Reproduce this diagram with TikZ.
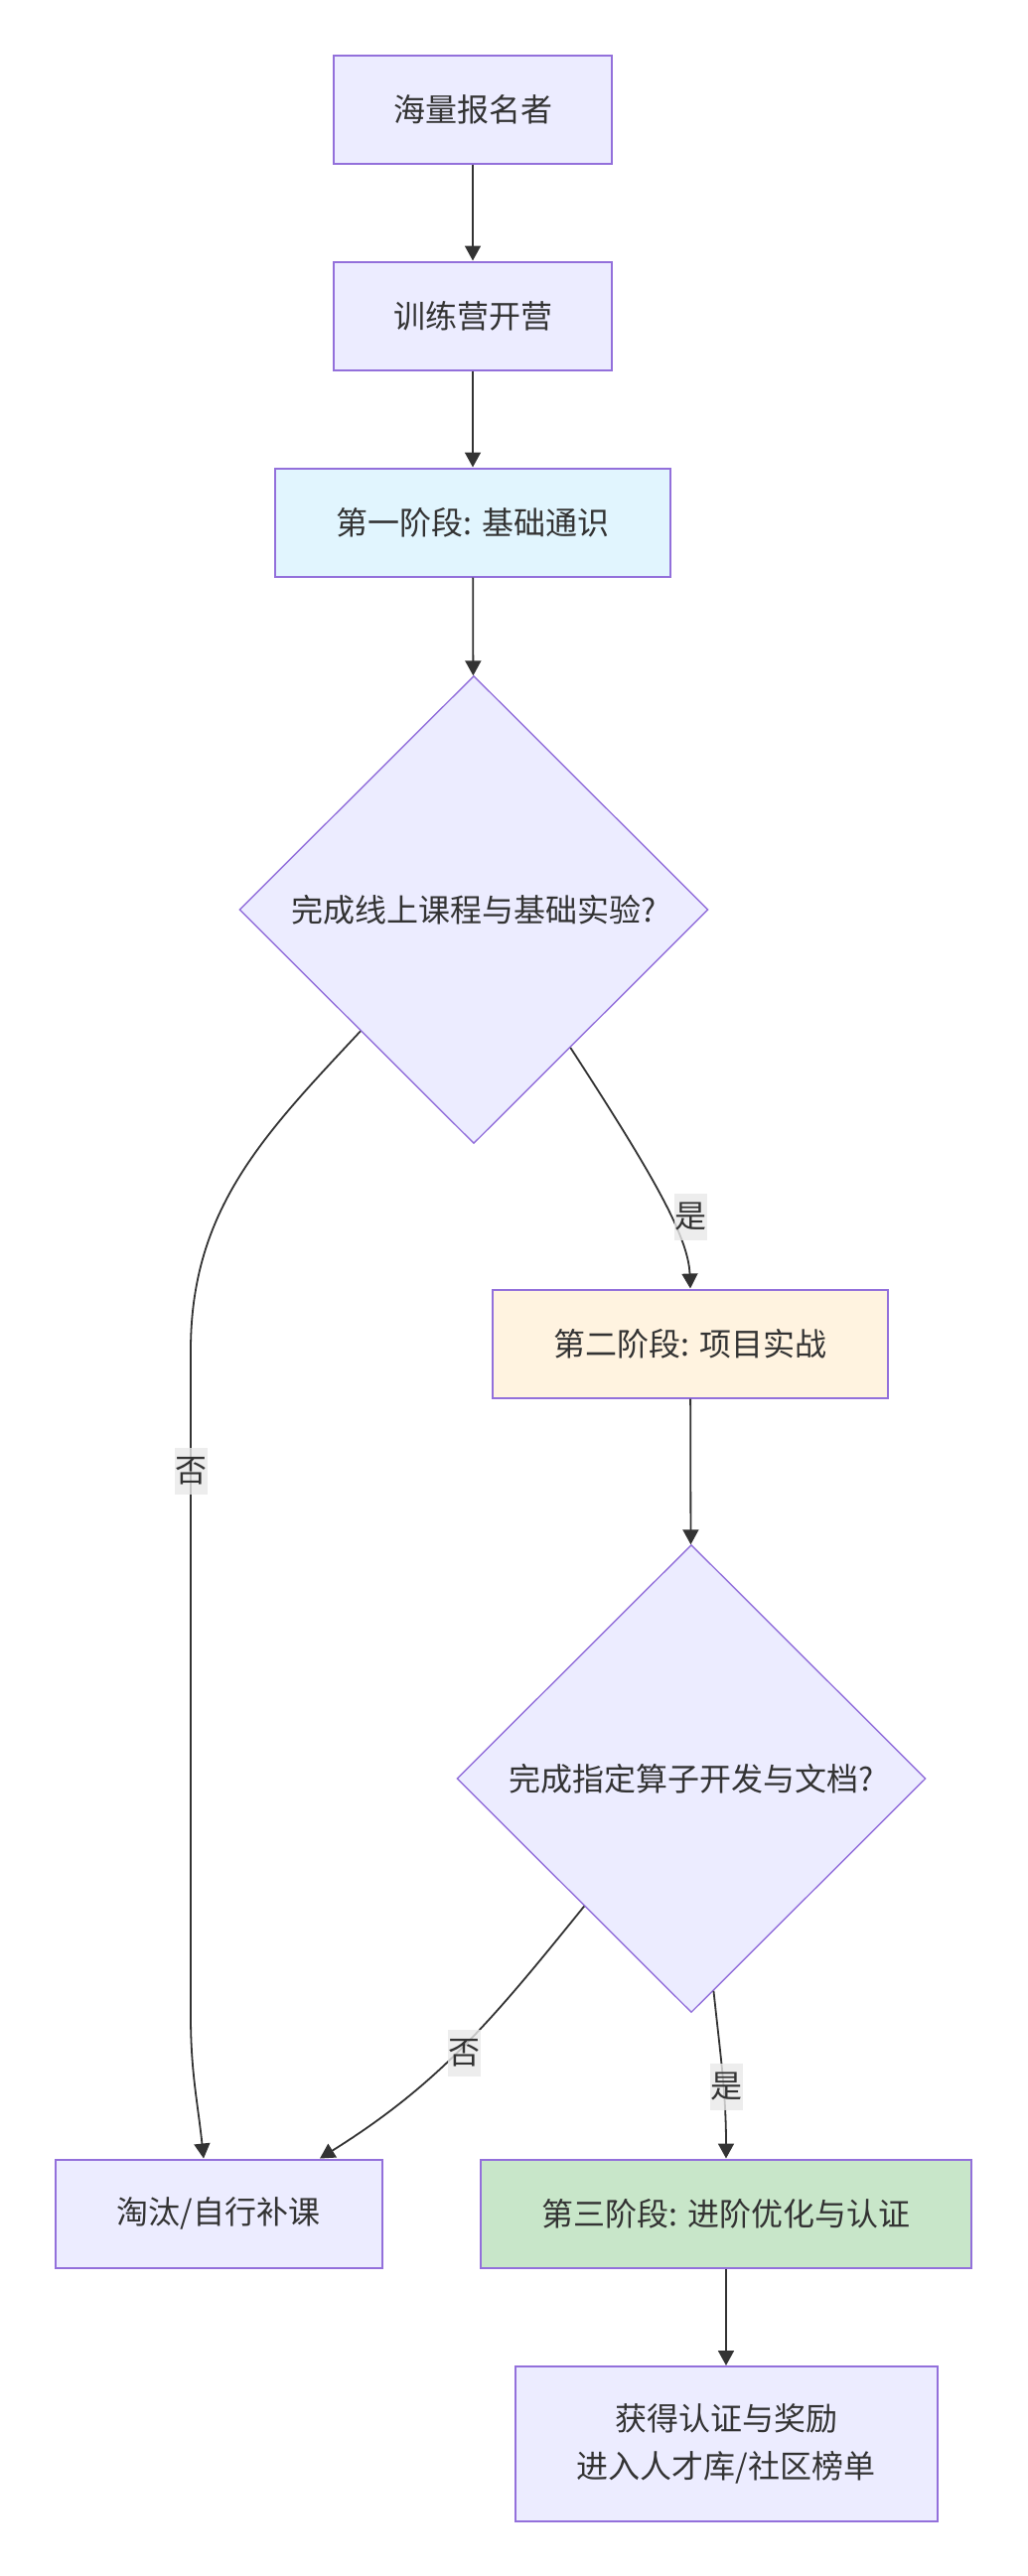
\documentclass[tikz,border=0pt]{standalone}
\usepackage{fontspec}
\setmainfont{Noto Sans CJK SC}
\usetikzlibrary{shapes.geometric,arrows.meta}

\definecolor{nodefill}{HTML}{ECECFF}
\definecolor{nodeline}{HTML}{9370DB}
\definecolor{edgeline}{HTML}{333333}
\definecolor{txt}{HTML}{333333}
\definecolor{stageone}{HTML}{E1F5FE}
\definecolor{stagetwo}{HTML}{FFF3E0}
\definecolor{stagethree}{HTML}{C8E6C9}
\definecolor{lblfill}{HTML}{E8E8E8}

\tikzset{
	box/.style={draw=nodeline, line width=2pt, fill=nodefill, text=txt, minimum height=109pt, inner sep=0pt, font=\fontsize{32}{48}\selectfont},
	decision/.style={diamond, draw=nodeline, line width=1.4pt, fill=nodefill, text=txt, minimum width=472pt, minimum height=471pt, inner sep=0pt, font=\fontsize{32}{48}\selectfont},
	arr/.style={draw=edgeline, line width=1.8pt, -{Triangle[length=15pt,width=16pt]}},
	lbl/.style={fill=lblfill, fill opacity=.8, text opacity=1, text=txt, inner sep=0pt, minimum width=33pt, minimum height=47pt, font=\fontsize{32}{48}\selectfont}
}

\begin{document}
\begin{tikzpicture}[x=1pt,y=-1pt]
	\useasboundingbox (0,0) rectangle (1034,2594);

	\node[box, minimum width=280pt] (reg) at (476,110) {海量报名者};
	\node[box, minimum width=280pt] (camp) at (476,318) {训练营开营};
	\node[box, fill=stageone, minimum width=398pt] (s1) at (476,526) {第一阶段: 基础通识};
	\node[decision] (q1) at (477,916) {完成线上课程与基础实验?};
	\node[box, fill=stagetwo, minimum width=398pt] (s2) at (695,1353) {第二阶段: 项目实战};
	\node[decision] (q2) at (696,1791) {完成指定算子开发与文档?};
	\node[box, minimum width=329pt] (out) at (220,2229) {淘汰/自行补课};
	\node[box, fill=stagethree, minimum width=494pt] (s3) at (731,2229) {第三阶段: 进阶优化与认证};
	\node[box, minimum width=425pt, minimum height=156pt, align=center] (award) at (731,2461) {获得认证与奖励\\进入人才库/社区榜单};

	\coordinate (bendA) at (192,1360);
	\coordinate (bendB) at (192,2030);

	\draw[arr] (reg) -- (camp);
	\draw[arr] (camp) -- (s1);
	\draw[arr] (s1) -- (q1);
	\draw[arr] (q1.-55) to[out=-57,in=92,out looseness=1.4,in looseness=.5] (s2.north);
	\draw[arr] (q1.-133) to[out=-133,in=90] (bendA) -- (bendB) to[out=-90,in=96] ([xshift=-15pt]out.north);
	\draw[arr] (s2) -- (q2);
	\draw[arr] (q2.-130) to[out=-129,in=32] ([xshift=102pt]out.north);
	\draw[arr] (q2.-84) to[out=-84,in=90] (s3.north);
	\draw[arr] (s3) -- (award);

	\node[lbl] (y1) at (695,1225) {是};
	\node[lbl] (n1) at (192,1481) {否};
	\node[lbl] (n2) at (467,2067) {否};
	\node[lbl] (y2) at (731,2101) {是};
\end{tikzpicture}
\end{document}
